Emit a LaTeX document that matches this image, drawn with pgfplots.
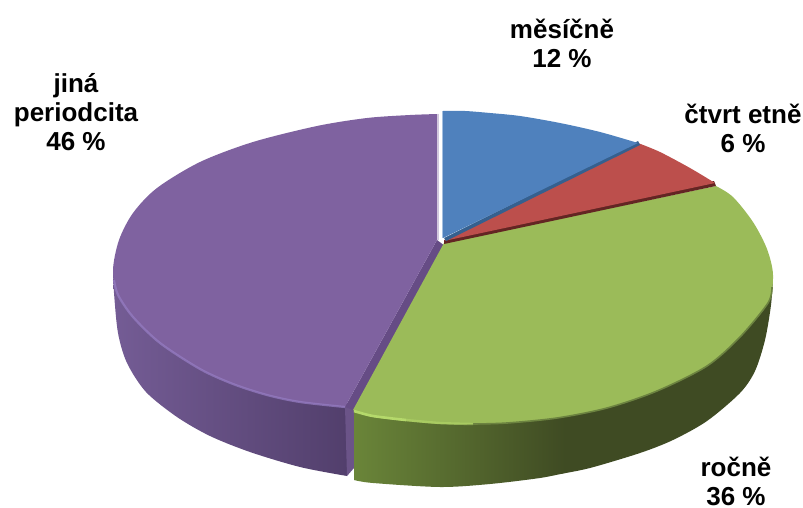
\documentclass[border=0pt]{standalone}
\usepackage{fontspec}
\setmainfont{Liberation Sans}
\usepackage{pgfplots}
\pgfplotsset{compat=1.18}

\definecolor{blueTop}{HTML}{4F81BD}
\definecolor{blueEdge}{HTML}{35608F}
\definecolor{blueRim}{HTML}{A3BFE0}
\definecolor{redTop}{HTML}{BC4F4C}
\definecolor{redEdge}{HTML}{632523}
\definecolor{greenTop}{HTML}{9BBB59}
\definecolor{greenRim}{HTML}{B5D96B}
\definecolor{greenSoft}{HTML}{6C8340}
\definecolor{greenSideL}{HTML}{6A8539}
\definecolor{greenSideR}{HTML}{3F4B23}
\definecolor{purpleTop}{HTML}{7F62A0}
\definecolor{purpleRim}{HTML}{957CC2}
\definecolor{purpleBand}{HTML}{664C85}
\definecolor{purpleSideL}{HTML}{745C95}
\definecolor{purpleSideR}{HTML}{523F6C}
\definecolor{purpleCut}{HTML}{6B5488}

\newcommand{\lab}[3]{\node[align=center,text=black,inner sep=0pt,
  font=\fontsize{26}{29}\bfseries\selectfont] at (axis cs:#1,#2) {#3};}

\begin{document}
\begin{tikzpicture}
\clip (0,0) rectangle (803pt,508pt);
\begin{axis}[
  scale only axis, width=803pt, height=508pt,
  xmin=0, xmax=803, ymin=0, ymax=508, y dir=reverse,
  hide axis, clip=false, no markers,
]
% jiná periodicita, 46 %: side wall, cut wall and top face
\addplot[smooth,draw=none,left color=purpleSideL,right color=purpleSideR] coordinates {
  (113,270) (114,293) (118,333) (127,363) (146,392) (177,417) (210,436)
  (250,452) (300,467) (347,476)} -- (axis cs:347,400) -- cycle;
\addplot[draw=none,fill=purpleCut] coordinates {
  (345,407) (354,408) (354,468) (347,476)} -- cycle;
\addplot[draw=none,fill=purpleBand] coordinates {
  (345,407) (356,411) (445,246) (437,240)} -- cycle;
\addplot[smooth,draw=none,fill=purpleTop] coordinates {
  (438,114) (410,115) (367,118) (317,126) (253,142) (200,162) (157,188)
  (133,213) (119,240) (113,270) (118,295) (133,317) (160,343) (200,369)
  (233,384) (267,395) (300,402) (345,407)} -- (axis cs:437,240) -- cycle;
\addplot[smooth,purpleRim,line width=2.2pt,opacity=.75] coordinates {
  (114,280) (118,295) (133,317) (160,343) (200,369)
  (233,384) (267,395) (300,402) (345,407)};
\addplot[white!65!purpleTop,line width=1.2pt] coordinates {(438,114) (438,240)};

% ročně, 36 %: side wall in two shaded spans, then the top face
\addplot[smooth,draw=none,fill=greenSideR] coordinates {
  (560,474) (590,468) (640,453) (673,440) (707,421) (740,393)
  (755,371) (765,340) (771,305) (773,277)} -- (axis cs:560,400) -- cycle;
\addplot[smooth,draw=none,left color=greenSideL,right color=greenSideR] coordinates {
  (354,480) (373,483) (440,487) (490,484) (540,478) (565,473)}
  -- (axis cs:565,400) -- (axis cs:354,410) -- cycle;
\addplot[smooth,draw=none,fill=greenTop] coordinates {
  (716,186) (733,197) (753,222) (767,249) (773,275) (768,303) (740,337)
  (707,366) (657,391) (607,408) (557,418) (507,423) (440,424)
  (373,417) (353,410)} -- (axis cs:444,243) -- cycle;
\addplot[smooth,greenSoft,line width=1.6pt] coordinates {
  (772,287) (768,303) (740,337) (707,366) (657,391) (607,408) (557,418)
  (507,423) (473,424)};
\addplot[smooth,greenRim,line width=2.4pt,opacity=.55] coordinates {
  (473,424) (440,423) (406,420)};
\addplot[smooth,greenRim,line width=2.6pt] coordinates {
  (406,420) (373,416) (354,411)};

% čtvrtletně, 6 %
\addplot[draw=none,fill=redEdge] coordinates {
  (714,181) (716,186) (444,244) (444,240)} -- cycle;
\addplot[smooth,draw=none,fill=redTop] coordinates {
  (638,143) (660,152) (690,168) (715,183)} -- (axis cs:444,241) -- cycle;

% měsíčně, 12 %
\addplot[draw=none,fill=blueEdge] coordinates {
  (638,141) (640,145) (446,241) (444,238)} -- cycle;
\addplot[smooth,draw=none,fill=blueTop] coordinates {
  (443,111) (465,111) (490,113) (520,116) (560,123) (600,132) (638,143)}
  -- (axis cs:443,238) -- cycle;
\addplot[blueRim,line width=1.4pt] coordinates {(442.5,111) (442.5,238)};

% Data labels
\lab{562}{43}{měsíčně\\12 \%}
\lab{743}{128}{čtvrt etně\\6 \%}
\lab{76}{112}{jiná\\periodcita\\46 \%}
\lab{736}{481}{ročně\\36 \%}
\end{axis}
\end{tikzpicture}
\end{document}
